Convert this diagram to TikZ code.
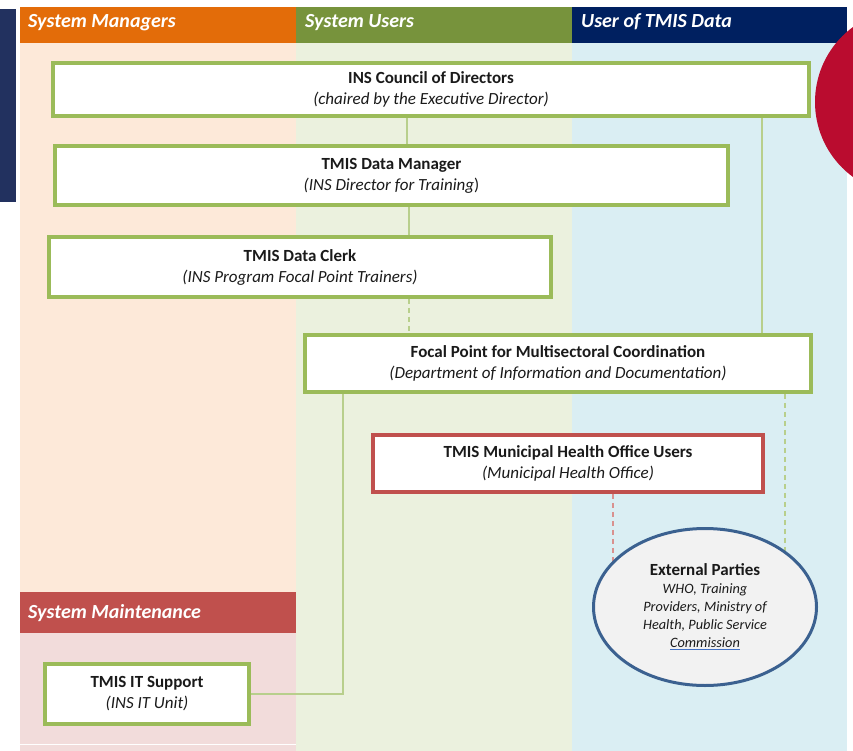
\documentclass[tikz,border=0pt]{standalone}
\usepackage{fontspec}
\setmainfont{Carlito}
\usetikzlibrary{shapes.geometric}

\definecolor{hdOrange}{HTML}{E36C09}
\definecolor{hdGreen}{HTML}{77933C}
\definecolor{hdNavy}{HTML}{002060}
\definecolor{hdRed}{HTML}{C0504D}
\definecolor{bgOrange}{HTML}{FDE9D9}
\definecolor{bgGreen}{HTML}{EBF1DE}
\definecolor{bgBlue}{HTML}{DAEEF3}
\definecolor{bgPink}{HTML}{F2DCDB}
\definecolor{boxGreen}{HTML}{9BBB59}
\definecolor{lineGreen}{HTML}{B8CF8C}
\definecolor{lineRed}{HTML}{D9918F}
\definecolor{sideNavy}{HTML}{22315F}
\definecolor{dotRed}{HTML}{BA0C2F}
\definecolor{ellBlue}{HTML}{3B6190}
\definecolor{ellFill}{HTML}{F2F2F2}
\definecolor{linkBlue}{HTML}{4472C4}
\definecolor{txt}{HTML}{1A1A1A}

% blue link-style underline
\newlength\linkwd
\newcommand\linkul[1]{\settowidth{\linkwd}{#1}%
  \rlap{\textcolor{linkBlue}{\rule[-0.3ex]{\linkwd}{1.3pt}}}#1}

\pgfdeclarelayer{back}
\pgfdeclarelayer{mid}
\pgfsetlayers{back,mid,main}

\tikzset{
  hdtext/.style={text=white, inner sep=0pt, anchor=base west,
    font=\fontsize{20}{24}\selectfont\bfseries\itshape},
  rolebox/.style={draw=boxGreen, line width=3.5pt, fill=white, inner sep=0pt,
    align=center, text=txt, font=\fontsize{17}{21}\selectfont},
  userbox/.style={rolebox, draw=hdRed},
  partybox/.style={ellipse, draw=ellBlue, line width=3pt, fill=ellFill, inner sep=0pt,
    align=center, text=txt, font=\fontsize{14.3}{18}\selectfont\itshape},
  link/.style={draw=lineGreen, line width=2pt},
  dlink/.style={link, dash pattern=on 5pt off 4pt},
  rlink/.style={draw=lineRed, line width=2pt, dash pattern=on 5pt off 4pt}
}

\begin{document}
\begin{tikzpicture}[x=1pt, y=-1pt]
\useasboundingbox (0,0) rectangle (853,751);

\begin{pgfonlayer}{back}
  % side bar
  \fill[sideNavy] (0,9) rectangle (16,202);
  % column headers
  \fill[hdOrange] (20,7) rectangle (296,43);
  \fill[hdGreen] (296,7) rectangle (572,43);
  \fill[hdNavy] (572,7) rectangle (847,43);
  % column bodies
  \fill[bgOrange] (20,43) rectangle (296,592);
  \fill[hdRed] (20,592) rectangle (296,633);
  \fill[bgPink] (20,633) rectangle (296,751);
  \draw[white, line width=1pt] (20,744) -- (296,744);
  \fill[bgGreen] (296,43) rectangle (572,751);
  \fill[bgBlue] (572,43) rectangle (847,751);
  % decorative disc
  \fill[dotRed] (908,102) circle (93pt);
\end{pgfonlayer}

% column titles
\node[hdtext] (tMgr) at (28,28) {System Managers};
\node[hdtext] (tUsr) at (305,28) {System Users};
\node[hdtext] (tData) at (581,28) {User of TMIS Data};
\node[hdtext] (tMnt) at (28,618) {System Maintenance};

% role boxes
\node[rolebox, minimum width=756pt, minimum height=53pt] (council) at (431,89.5)
  {\textbf{INS Council of Directors}\\\textit{(chaired by the Executive Director)}};
\node[rolebox, minimum width=673pt, minimum height=59pt] (manager) at (391.5,175.5)
  {\textbf{TMIS Data Manager}\\\textit{(INS Director for Training})};
\node[rolebox, minimum width=502pt, minimum height=60pt] (clerk) at (300,267)
  {\textbf{TMIS Data Clerk}\\\textit{(INS Program Focal Point Trainers)}};
\node[rolebox, minimum width=506pt, minimum height=57pt] (focal) at (558,363.5)
  {\textbf{Focal Point for Multisectoral Coordination}\\\textit{(Department of Information and Documentation)}};
\node[userbox, minimum width=390pt, minimum height=57pt] (muni) at (568,463.5)
  {\textbf{TMIS Municipal Health Office Users}\\\textit{(Municipal Health Office)}};
\node[rolebox, minimum width=204pt, minimum height=60pt] (itsup) at (147,694)
  {\textbf{TMIS IT Support}\\\textit{(INS IT Unit)}};
\node[partybox, minimum width=223pt, minimum height=157pt] (ext) at (705,607)
  {{\upshape\bfseries\fontsize{17}{20}\selectfont External Parties}\\
   WHO, Training\\Providers, Ministry of\\Health, Public Service\\\linkul{Commission}};

% connectors (kept beneath the nodes, so they end at the outlines)
\begin{pgfonlayer}{mid}
  \draw[link] (council.south -| 407,0) -- (manager.north -| 407,0);
  \draw[link] (council.south -| 762,0) -- (focal.north -| 762,0);
  \draw[link] (manager.south -| 409,0) -- (clerk.north -| 409,0);
  \draw[dlink] (clerk.south -| 409,0) -- (focal.north -| 409,0);
  \draw[link] (focal.south -| 343,0) |- (itsup.east);
  \draw[dlink] (focal.south -| 785,0) -- (ext.center -| 785,0);
  \draw[rlink] (muni.south -| 613,0) -- (ext.center -| 613,0);
\end{pgfonlayer}
\end{tikzpicture}
\end{document}
